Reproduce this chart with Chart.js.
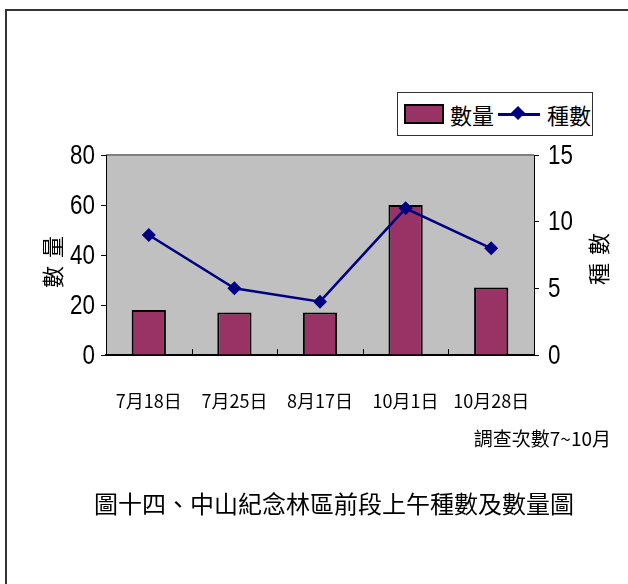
<!DOCTYPE html>
<html>
<head>
<meta charset="utf-8">
<script src="https://cdn.jsdelivr.net/npm/chart.js@4"></script>
<style>
  html, body { margin: 0; padding: 0; width: 628px; height: 584px; overflow: hidden; background: #fff; }
  #frame { position: absolute; left: 5px; top: 9px; width: 700px; height: 700px; border: 2px solid #333; box-sizing: border-box; }
  #chart { position: absolute; left: 0; top: 0; }
  .txt { position: absolute; white-space: nowrap; line-height: 1; color: #000;
         font-family: "Noto Sans CJK TC", "Noto Sans CJK SC", sans-serif; }
  #legend { position: absolute; left: 397px; top: 92px; width: 196px; height: 44px; box-sizing: border-box;
            border: 1px solid #333; background: #fff; }
  #legend .swatch { position: absolute; left: 6px; top: 11px; width: 40px; height: 20px; box-sizing: border-box;
                    border: 2px solid #000; background: #993366; }
  #legend .line { position: absolute; left: 100px; top: 20px; width: 42px; height: 0; border-top: 3px solid #000080; }
  #legend .diamond { position: absolute; left: 115px; top: 15px; width: 10px; height: 10px; background: #000080; transform: rotate(45deg); }
</style>
</head>
<body>
<div id="frame"></div>
<canvas id="chart" width="628" height="584"></canvas>

<div id="legend">
  <div class="swatch"></div>
  <div class="txt" style="left:52px; top:10px; font-size:22px;">數量</div>
  <div class="line"></div>
  <div class="diamond"></div>
  <div class="txt" style="left:149px; top:10px; font-size:22px;">種數</div>
</div>

<div class="txt" style="left:51px; top:258px; font-size:22px; letter-spacing:8px; transform:translate(-50%,-50%) rotate(-90deg);">數量</div>
<div class="txt" style="left:597px; top:255px; font-size:22px; letter-spacing:8px; transform:translate(-50%,-50%) rotate(-90deg);">種數</div>
<div class="txt" style="right:17px; top:428px; font-size:19px;">調查次數7~10月</div>
<div class="txt" style="left:334px; top:491px; font-size:24px; transform:translateX(-50%);">圖十四、中山紀念林區前段上午種數及數量圖</div>

<script>
// data
const categories = ["7月18日", "7月25日", "8月17日", "10月1日", "10月28日"];
const countValues = [18, 17, 17, 60, 27];   // 數量 (bars, left axis)
const speciesValues = [9, 5, 4, 11, 8];     // 種數 (line, right axis)
const countTicks = { min: 0, max: 80, step: 20 };
const speciesTicks = { min: 0, max: 15, step: 5 };

// grey plot area + little ticks between the categories
const plotArea = {
    id: "plotArea",
    beforeDraw(chart) {
        const { ctx, chartArea: a } = chart;
        ctx.save();
        ctx.fillStyle = "#c0c0c0";
        ctx.fillRect(a.left, a.top, a.right - a.left, a.bottom - a.top);
        ctx.strokeStyle = "#808080";
        ctx.lineWidth = 2;
        ctx.beginPath();
        ctx.moveTo(a.left, a.top);
        ctx.lineTo(a.right, a.top);
        ctx.stroke();
        ctx.restore();
    },
    afterDatasetsDraw(chart) {
        const { ctx, chartArea: a, scales } = chart;
        ctx.save();
        ctx.strokeStyle = "#000";
        ctx.lineWidth = 1;
        for (let i = 1; i < categories.length; i++) {
            const px = Math.round((scales.x.getPixelForTick(i - 1) + scales.x.getPixelForTick(i)) / 2) + 0.5;
            ctx.beginPath();
            ctx.moveTo(px, a.bottom);
            ctx.lineTo(px, a.bottom - 6);
            ctx.stroke();
        }
        ctx.restore();
    }
};

// the y numbers in the picture are a narrow face: squeeze Liberation Sans a bit
const narrowTicks = {
    id: "narrowTicks",
    afterDraw(chart) {
        const ctx = chart.ctx;
        ["y", "y1"].forEach(id => {
            const s = chart.scales[id];
            s.ticks.forEach(t => {
                ctx.save();
                ctx.font = "28px 'Liberation Sans', Arial, sans-serif";
                ctx.fillStyle = "#000";
                ctx.textBaseline = "middle";
                if (id === "y") {
                    ctx.translate(s.right - 11, s.getPixelForValue(t.value) + 1);
                    ctx.textAlign = "right";
                } else {
                    ctx.translate(s.left + 14, s.getPixelForValue(t.value) + 1);
                    ctx.textAlign = "left";
                }
                ctx.scale(0.8, 1);
                ctx.fillText(String(t.value), 0, 0);
                ctx.restore();
            });
        });
    }
};

new Chart(document.getElementById("chart").getContext("2d"), {
    data: {
        labels: categories,
        datasets: [
            {
                type: "line",
                label: "種數",
                data: speciesValues,
                yAxisID: "y1",
                borderColor: "#000080",
                backgroundColor: "#000080",
                borderWidth: 2.5,
                pointStyle: "rectRot",
                pointRadius: 7,
                pointBorderWidth: 0,
                tension: 0,
                order: 0
            },
            {
                type: "bar",
                label: "數量",
                data: countValues,
                yAxisID: "y",
                backgroundColor: "#993366",
                borderColor: "#000",
                borderWidth: 2,
                barPercentage: 0.4,
                categoryPercentage: 1,
                order: 1
            }
        ]
    },
    options: {
        responsive: false,
        animation: false,
        layout: { padding: { top: 155, left: 0, right: 0, bottom: 0 } },
        plugins: { legend: { display: false }, tooltip: { enabled: false } },
        scales: {
            x: {
                afterFit: (s) => { s.height = 229; },
                grid: { display: false, drawTicks: false },
                border: { display: true, color: "#000", width: 2 },
                ticks: {
                    color: "#000",
                    padding: 35,
                    maxRotation: 0,
                    autoSkip: false,
                    font: { family: "'Noto Sans CJK TC', sans-serif", size: 18 }
                }
            },
            y: {
                position: "left",
                min: countTicks.min,
                max: countTicks.max,
                afterFit: (s) => { s.width = 106; },
                grid: { drawOnChartArea: false, color: "#000", tickLength: 5 },
                border: { color: "#000", width: 1 },
                ticks: { stepSize: countTicks.step, display: false }
            },
            y1: {
                position: "right",
                min: speciesTicks.min,
                max: speciesTicks.max,
                afterFit: (s) => { s.width = 94; },
                grid: { drawOnChartArea: false, color: "#000", tickLength: 5 },
                border: { color: "#000", width: 1 },
                ticks: { stepSize: speciesTicks.step, display: false }
            }
        }
    },
    plugins: [plotArea, narrowTicks]
});
</script>
</body>
</html>
